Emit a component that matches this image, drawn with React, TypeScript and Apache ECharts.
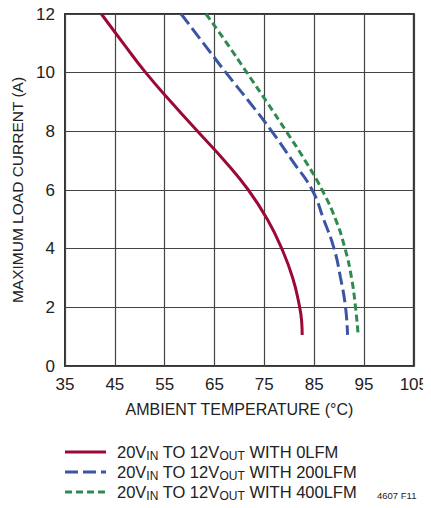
import React, { useEffect, useRef } from "react";
import * as echarts from "echarts";

const xMin = 35;
const xMax = 105;
const xStep = 10;
const yMin = 0;
const yMax = 12;
const yStep = 2;

const seriesNames = [
  "20V{sub|IN} TO 12V{sub|OUT} WITH 0LFM",
  "20V{sub|IN} TO 12V{sub|OUT} WITH 200LFM",
  "20V{sub|IN} TO 12V{sub|OUT} WITH 400LFM",
];

const lfm0: [number, number][] = [
  [42.3, 12], [46.7, 11], [51.2, 10], [56.3, 9], [61.6, 8], [67.0, 7],
  [71.8, 6], [75.6, 5], [78.5, 4], [80.7, 3], [82.1, 2], [82.5, 1.5],
  [82.6, 1.06],
];
const lfm200: [number, number][] = [
  [58.3, 12], [62.8, 11], [67.3, 10], [72, 9], [76.5, 8], [80.6, 7],
  [84.6, 6], [86.9, 5], [89, 4], [90.3, 3], [91.3, 2], [91.7, 1.06],
];
const lfm400: [number, number][] = [
  [63.3, 12], [67.5, 11], [71.5, 10], [75.5, 9], [79.4, 8], [83.2, 7],
  [86.6, 6], [89.3, 5], [91.2, 4], [92.5, 3], [93.3, 2], [93.8, 1.12],
];

const colors = ["#9b0a35", "#3a55a5", "#2e8a4e"];
const dashes: (number[] | "solid")[] = ["solid", [13, 5], [7, 4]];
const seriesData = [lfm0, lfm200, lfm400];

const FONT = "'Liberation Sans', Arial, sans-serif";
const INK = "#222";

export default function App() {
  const ref = useRef<HTMLDivElement>(null);
  useEffect(() => {
    if (!ref.current) return;
    const chart = echarts.init(ref.current, null, { renderer: "svg" });
    const legendGraphics: any[] = [];
    seriesNames.forEach((name, i) => {
      const y = 452 + i * 20;
      legendGraphics.push({
        type: "line",
        shape: { x1: 65, y1: y, x2: 106, y2: y },
        style: {
          stroke: colors[i],
          lineWidth: 3,
          lineDash: dashes[i] === "solid" ? null : dashes[i],
        },
      });
      legendGraphics.push({
        type: "text",
        x: 117,
        y: y,
        style: {
          text: name,
          fontFamily: FONT,
          fontSize: 16.5,
          fill: INK,
          verticalAlign: "middle",
          rich: {
            sub: { fontSize: 12, fontFamily: FONT, fill: INK, padding: [8, 0, 0, 0] },
          },
        },
      });
    });
    legendGraphics.push({
      type: "text",
      x: 377,
      y: 495,
      style: {
        text: "4607 F11",
        fontFamily: FONT,
        fontSize: 9.5,
        fill: INK,
        verticalAlign: "middle",
      },
    });

    chart.setOption({
      animation: false,
      grid: {
        left: 65,
        right: 14,
        top: 14,
        bottom: 142,
        show: true,
        borderColor: "#333",
        borderWidth: 2,
      },
      xAxis: {
        type: "value",
        min: xMin,
        max: xMax,
        interval: xStep,
        name: "AMBIENT TEMPERATURE (°C)",
        nameLocation: "middle",
        nameGap: 35,
        nameTextStyle: { fontFamily: FONT, fontSize: 16, color: INK },
        axisLine: { show: false },
        axisTick: { show: false },
        axisLabel: { fontFamily: FONT, fontSize: 17, color: INK, margin: 10 },
        splitLine: { show: true, lineStyle: { color: "#444", width: 1.2 } },
      },
      yAxis: {
        type: "value",
        min: yMin,
        max: yMax,
        interval: yStep,
        name: "MAXIMUM LOAD CURRENT (A)",
        nameLocation: "middle",
        nameGap: 39,
        nameTextStyle: { fontFamily: FONT, fontSize: 15.5, color: INK },
        axisLine: { show: false },
        axisTick: { show: false },
        axisLabel: { fontFamily: FONT, fontSize: 17, color: INK, margin: 10 },
        splitLine: { show: true, lineStyle: { color: "#444", width: 1.2 } },
      },
      series: seriesData.map((d, i) => ({
        type: "line",
        data: d,
        showSymbol: false,
        smooth: 0.5,
        lineStyle: {
          color: colors[i],
          width: 3,
          type: dashes[i],
        },
        z: 3,
      })),
      graphic: legendGraphics,
    });
    return () => chart.dispose();
  }, []);
  return <div ref={ref} style={{ width: 431, height: 508, margin: -8 }} />;
}
